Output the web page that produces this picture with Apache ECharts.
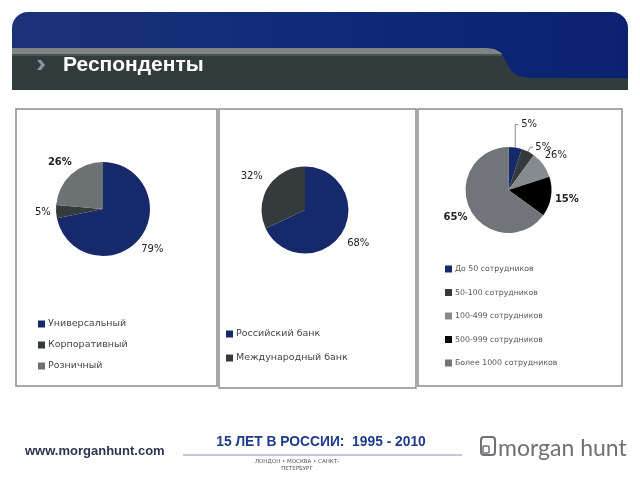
<!DOCTYPE html>
<html><head><meta charset="utf-8">
<script src="https://cdn.jsdelivr.net/npm/echarts@6/dist/echarts.min.js"></script>
<style>html,body{margin:0;padding:0;background:#fff}#c{width:640px;height:480px}</style>
</head><body><div id="c"></div>
<script>
// ---- data ----
const title = 'Респонденты';
const cats1 = ['Универсальный', 'Корпоративный', 'Розничный'];
const vals1 = [79, 5, 26];
const cats2 = ['Российский банк', 'Международный банк'];
const vals2 = [68, 32];
const cats3 = ['До 50 сотрудников', '50-100 сотрудников', '100-499 сотрудников', '500-999 сотрудников', 'Более 1000 сотрудников'];
const vals3 = [5, 5, 10, 15, 65];
const labels3 = ['5%', '5%', '26%', '15%', '65%'];
const footerLeft = 'www.morganhunt.com';
const footerMid = '15 ЛЕТ В РОССИИ:  1995 - 2010';
const footerSmall1 = 'ЛОНДОН • МОСКВА • САНКТ-';
const footerSmall2 = 'ПЕТЕРБУРГ';
const logoText = 'morgan hunt';

const NAVY = '#16296b', DARK = '#333c3b', GRAY = '#6c7174', LGRAY = '#868b8f', BLACK = '#000000', BGRAY = '#717579';
const colors1 = [NAVY, DARK, GRAY];
const colors2 = [NAVY, DARK];
const colors3 = [NAVY, DARK, LGRAY, BLACK, BGRAY];
const FONT = 'DejaVu Sans';

// pie geometry (layout settings)
const P1 = { c: [103, 209], r: 47, gap: 5 };
const P2 = { c: [305, 210], r: 43.5, gap: 7.5 };
const P3 = { c: [508.5, 190], r: 43, gap: 3.5 };
// chart 3: labels with leader lines (style per index)
const lines3 = { 0: { len: 23, h: 3, dist: 3, vertical: true }, 1: { len: 5, h: 3, dist: 2, vertical: false } };

function mk(cats, vals, cols, labs, bold, lines) {
  return cats.map((n, i) => {
    const d = {
      name: n, value: vals[i],
      itemStyle: { color: cols[i] },
      label: { formatter: labs ? labs[i] : vals[i] + '%', fontWeight: bold.includes(i) ? 'bold' : 'normal' }
    };
    if (lines && lines[i]) {
      d.labelLine = { show: true, lineStyle: { color: '#8a8a8a', width: 1 } };
    }
    return d;
  });
}

function radialLayout(vals, P, lines) {
  const total = vals.reduce((a, b) => a + b, 0);
  return function (p) {
    const i = p.dataIndex;
    let before = 0;
    for (let k = 0; k < i; k++) before += vals[k];
    const mid = (before + vals[i] / 2) / total * Math.PI * 2;
    const s = Math.sin(mid), c = Math.cos(mid);
    if (lines && lines[i]) {
      const L = lines[i];
      const e = [P.c[0] + P.r * s, P.c[1] - P.r * c];
      const m = L.vertical ? [e[0], e[1] - L.len] : [e[0] + L.len * s, e[1] - L.len * c];
      const t = [m[0] + L.h, m[1]];
      return { x: t[0] + L.dist, y: t[1], align: 'left', verticalAlign: 'middle', labelLinePoints: [e, m, t] };
    }
    const hw = p.labelRect.width / 2, hh = p.labelRect.height / 2;
    const d = P.r + P.gap + Math.abs(s) * hw + Math.abs(c) * hh;
    return { x: P.c[0] + d * s, y: P.c[1] - d * c, align: 'center', verticalAlign: 'middle' };
  };
}

const chart = echarts.init(document.getElementById('c'), null, { renderer: 'canvas' });

const pieBase = {
  type: 'pie', startAngle: 90, clockwise: true, animation: false, avoidLabelOverlap: false,
  label: { show: true, position: 'outside', fontFamily: FONT, fontSize: 10, color: '#222' },
  labelLine: { show: false, length: 4, length2: 0 },
  emphasis: { disabled: true },
  itemStyle: { borderWidth: 0 }
};

const legendBase = {
  orient: 'vertical', icon: 'rect', itemWidth: 7, itemHeight: 7,
  textStyle: { fontFamily: FONT, fontSize: 9.5, color: '#444', padding: [0, 0, 0, -2] },
  selectedMode: false
};

// curved end of grey header band
const bandPts = [[12, 48], [486, 48], [494, 49], [500, 52], [504, 58], [508, 66], [512, 72], [518, 76], [530, 78], [628, 78], [628, 90], [12, 90]];

const graphic = [
  // header
  { type: 'rect', shape: { x: 12, y: 12, width: 616, height: 78, r: [16, 16, 0, 0] }, style: { fill: new echarts.graphic.LinearGradient(0, 0, 1, 0, [{ offset: 0, color: '#1a3278' }, { offset: 0.5, color: '#0f2a78' }, { offset: 1, color: '#0a2270' }]) } },
  { type: 'polygon', shape: { points: bandPts }, style: { fill: '#333c3c' } },
  { type: 'polygon', shape: { points: [[12, 48], [486, 48], [494, 49], [500, 52], [502, 54], [12, 54]] }, style: { fill: '#7f8485' } },
  { type: 'rect', shape: { x: 12, y: 54, width: 490, height: 2 }, style: { fill: '#4a5252' } },
  { type: 'polygon', shape: { points: [[37, 60], [41, 60], [45, 65], [41, 70], [37, 70], [41, 65]] }, style: { fill: '#8a93a8' } },
  { type: 'text', x: 63, y: 65, style: { text: title, fill: '#ffffff', font: 'bold 21px "Liberation Sans", Arial, sans-serif', verticalAlign: 'middle' } },
  // panels
  { type: 'rect', shape: { x: 16, y: 109, width: 201, height: 277 }, style: { fill: 'none', stroke: '#8c8c8c', lineWidth: 1.5 } },
  { type: 'rect', shape: { x: 219, y: 109, width: 197, height: 279 }, style: { fill: 'none', stroke: '#8c8c8c', lineWidth: 1.5 } },
  { type: 'rect', shape: { x: 418, y: 109, width: 204, height: 277 }, style: { fill: 'none', stroke: '#8c8c8c', lineWidth: 1.5 } },
  // footer
  { type: 'text', x: 25, y: 451, style: { text: footerLeft, fill: '#2b3552', font: 'bold 13px "Liberation Sans", Arial, sans-serif', verticalAlign: 'middle' } },
  { type: 'text', x: 321, y: 442, style: { text: footerMid, fill: '#1e3a8c', font: 'bold 13.8px "Liberation Sans", Arial, sans-serif', align: 'center', verticalAlign: 'middle' } },
  { type: 'line', shape: { x1: 183, y1: 455, x2: 462, y2: 455 }, style: { stroke: '#8a90a6', lineWidth: 1 } },
  { type: 'text', x: 297, y: 462, style: { text: footerSmall1, fill: '#555', font: '5.5px "DejaVu Sans", sans-serif', align: 'center', verticalAlign: 'middle' } },
  { type: 'text', x: 297, y: 469, style: { text: footerSmall2, fill: '#555', font: '5.5px "DejaVu Sans", sans-serif', align: 'center', verticalAlign: 'middle' } },
  { type: 'rect', shape: { x: 481, y: 437, width: 14, height: 18, r: 3 }, style: { fill: 'none', stroke: '#6e7073', lineWidth: 2 } },
  { type: 'rect', shape: { x: 483, y: 446, width: 6, height: 7, r: 1 }, style: { fill: 'none', stroke: '#6e7073', lineWidth: 1.5 } },
  { type: 'text', x: 498, y: 449, style: { text: logoText, fill: '#6e7073', font: '23px Lato, "Open Sans", sans-serif', verticalAlign: 'middle' } }
];

chart.setOption({
  animation: false,
  graphic: graphic,
  legend: [
    Object.assign({}, legendBase, { data: cats1, left: 33, top: 314, itemGap: 11 }),
    Object.assign({}, legendBase, { data: cats2, left: 221, top: 324, itemGap: 14 }),
    Object.assign({}, legendBase, { data: cats3, left: 440, top: 260, itemGap: 15.5, textStyle: { fontFamily: FONT, fontSize: 7.8, color: '#555', padding: [0, 0, 0, -2] } })
  ],
  series: [
    Object.assign({}, pieBase, { center: P1.c, radius: P1.r, data: mk(cats1, vals1, colors1, null, [2]), labelLayout: radialLayout(vals1, P1) }),
    Object.assign({}, pieBase, { center: P2.c, radius: P2.r, data: mk(cats2, vals2, colors2, null, []), labelLayout: radialLayout(vals2, P2) }),
    Object.assign({}, pieBase, { center: P3.c, radius: P3.r, data: mk(cats3, vals3, colors3, labels3, [3, 4], lines3), labelLayout: radialLayout(vals3, P3, lines3) })
  ]
});
</script></body></html>
